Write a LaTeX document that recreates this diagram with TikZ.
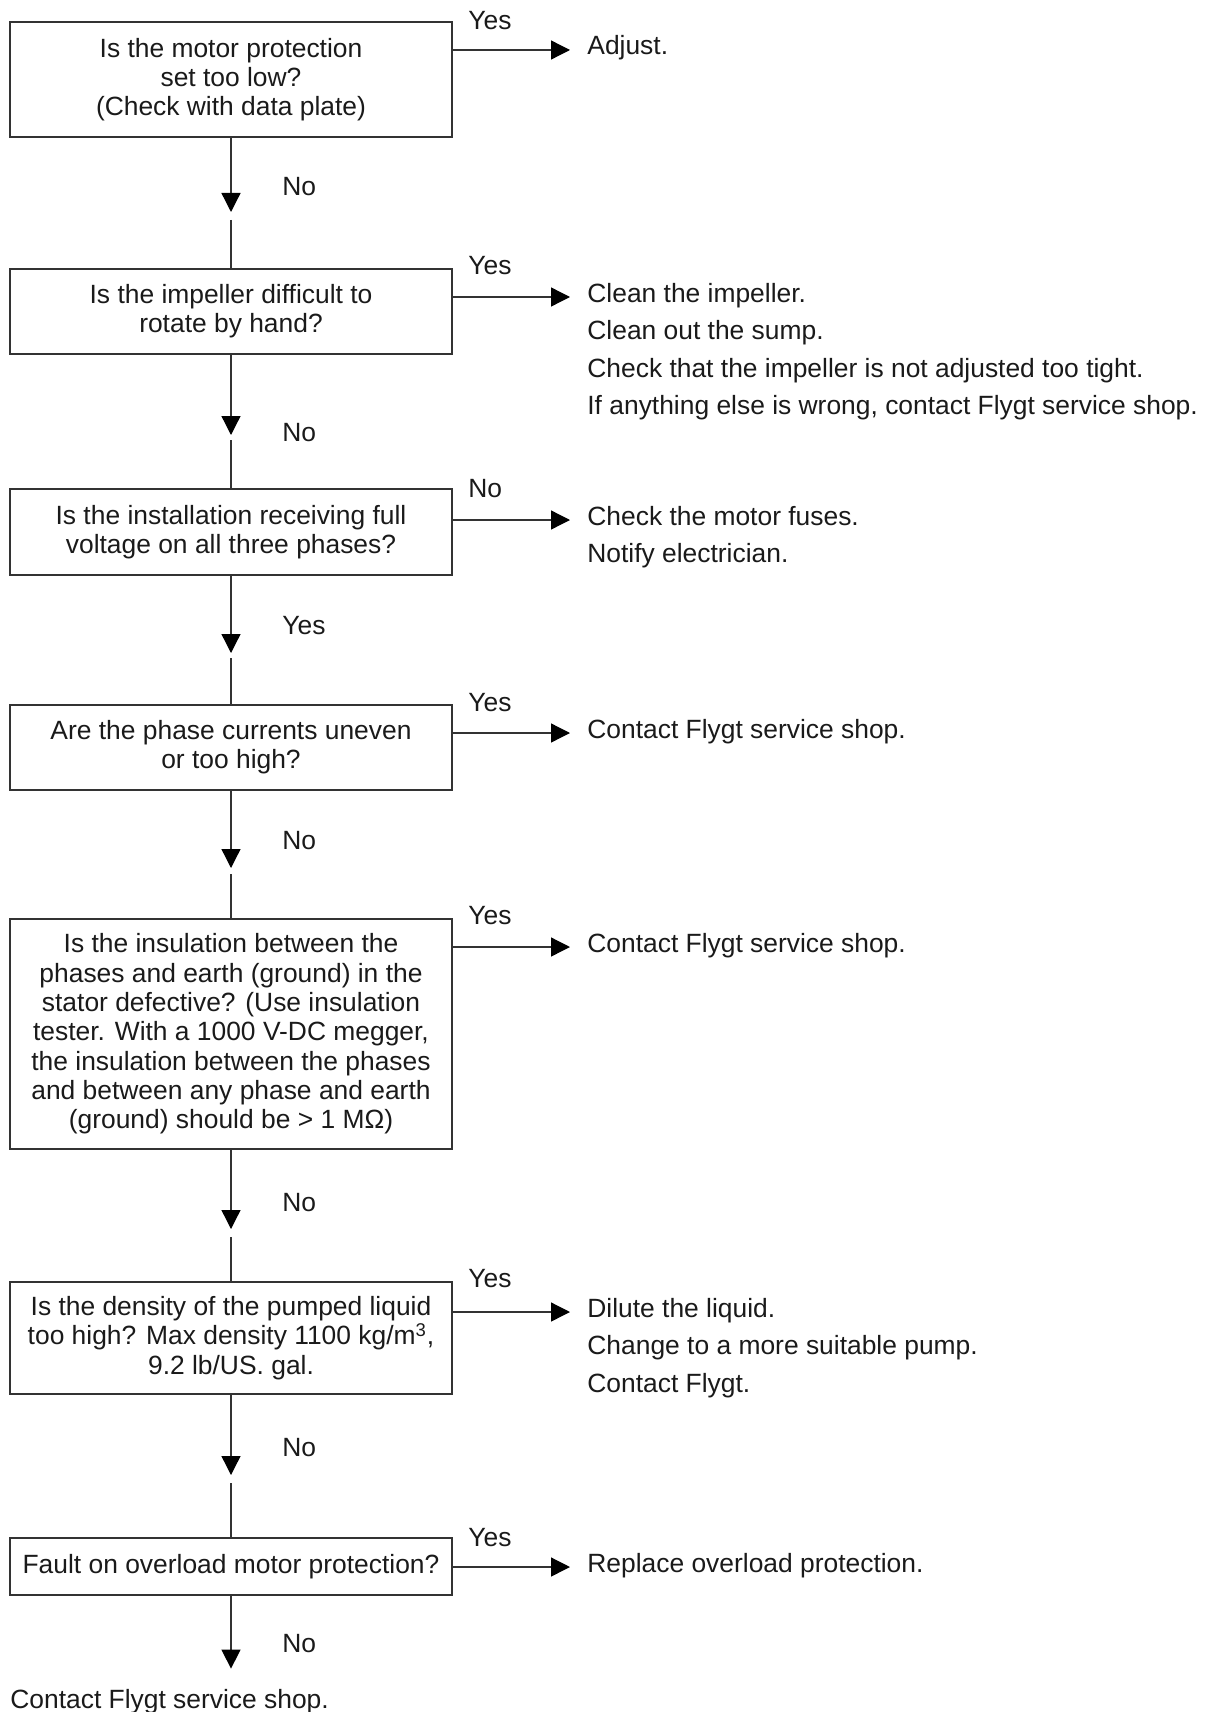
\documentclass[tikz,border=0pt]{standalone}
\usepackage{fontspec}
\setmainfont{Liberation Sans}
\usetikzlibrary{arrows.meta}
\definecolor{lncol}{HTML}{333333}
\definecolor{txcol}{HTML}{1A1A1A}
\begin{document}
\begin{tikzpicture}[x=0.5pt,y=-0.5pt,
  every node/.style={font=\fontsize{13.2pt}{14.65pt}\selectfont, text=txcol},
  qbox/.style={draw=lncol, line width=0.65pt, minimum width=221pt, inner sep=0pt, align=center},
  arr/.style={draw=lncol, line width=0.65pt, -{Triangle[length=9.5pt,width=9.5pt,color=black]}},
  plain/.style={draw=lncol, line width=0.65pt},
  lbl/.style={anchor=base west, inner sep=0pt},
  rt/.style={anchor=west, inner xsep=8.5pt, inner ysep=0pt, text height=8pt, text depth=3pt},
  rtn/.style={anchor=base west, inner xsep=8.5pt, inner ysep=0pt, text height=8pt, text depth=3pt}
]
\useasboundingbox (0,0) rectangle (1207,1712);

% question boxes
\node[qbox, minimum height=57.5pt] (b1) at (231,79.5) {Is the motor protection\\set too low?\\(Check with data plate)};
\node[qbox, minimum height=42.5pt] (b2) at (231,311.5) {Is the impeller difficult to\\rotate by hand?};
\node[qbox, minimum height=43pt] (b3) at (231,532) {Is the installation receiving full\\voltage on all three phases?};
\node[qbox, minimum height=42.5pt] (b4) at (231,747.5) {Are the phase currents uneven\\or too high?};
\node[qbox, minimum height=115pt] (b5) at (231,1034) {Is the insulation between the\\phases and earth (ground) in the\\stator defective? (Use insulation\\tester. With a 1000 V-DC megger,\\the insulation between the phases\\and between any phase and earth\\(ground) should be > 1 MΩ)};
\node[qbox, minimum height=56pt] (b6) at (231,1338) {Is the density of the pumped liquid\\too high? Max density 1100 kg/m\textsuperscript{3},\\9.2 lb/US. gal.};
\node[qbox, minimum height=28.5pt] (b7) at (231,1566.5) {Fault on overload motor protection?};

% right-hand actions
\node[rt] (r1) at (570,50) {Adjust.};
\node[rt] (r2a) at (570,297) {Clean the impeller.};
\node[rtn] (r2b) at ([yshift=-18.75pt]r2a.base west) {Clean out the sump.};
\node[rtn] (r2c) at ([yshift=-18.75pt]r2b.base west) {Check that the impeller is not adjusted too tight.};
\node[rtn] (r2d) at ([yshift=-18.75pt]r2c.base west) {If anything else is wrong, contact Flygt service shop.};
\node[rt] (r3a) at (570,520) {Check the motor fuses.};
\node[rtn] (r3b) at ([yshift=-18.75pt]r3a.base west) {Notify electrician.};
\node[rt] (r4) at (570,733) {Contact Flygt service shop.};
\node[rt] (r5) at (570,947) {Contact Flygt service shop.};
\node[rt] (r6a) at (570,1312) {Dilute the liquid.};
\node[rtn] (r6b) at ([yshift=-18.75pt]r6a.base west) {Change to a more suitable pump.};
\node[rtn] (r6c) at ([yshift=-18.75pt]r6b.base west) {Contact Flygt.};
\node[rt] (r7) at (570,1567) {Replace overload protection.};

% final result
\node[anchor=base west, inner xsep=0pt, inner ysep=10pt, text height=9.5pt, text depth=2.5pt] (fin) at (10,1708) {Contact Flygt service shop.};

% horizontal arrows
\foreach \b/\r in {b1/r1,b2/r2a,b3/r3a,b4/r4,b5/r5,b6/r6a,b7/r7}
  \draw[arr] (\b.east |- \r.west) -- (\r.west);

% horizontal labels
\node[lbl] (h1) at (468,29.5) {Yes};
\node[lbl] (h2) at (468,274.5) {Yes};
\node[lbl] (h3) at (468,497.5) {No};
\node[lbl] (h4) at (468,711.5) {Yes};
\node[lbl] (h5) at (468,924.5) {Yes};
\node[lbl] (h6) at (468,1287.5) {Yes};
\node[lbl] (h7) at (468,1546.5) {Yes};

% vertical connectors
\coordinate (t1) at (231,212);  \coordinate (s1) at (231,220);
\coordinate (t2) at (231,435);  \coordinate (s2) at (231,440);
\coordinate (t3) at (231,653);  \coordinate (s3) at (231,658);
\coordinate (t4) at (231,868);  \coordinate (s4) at (231,874);
\coordinate (t5) at (231,1229); \coordinate (s5) at (231,1237);
\coordinate (t6) at (231,1475); \coordinate (s6) at (231,1483);
\draw[arr] (b1.south) -- (t1); \draw[plain] (s1) -- (b2.north);
\draw[arr] (b2.south) -- (t2); \draw[plain] (s2) -- (b3.north);
\draw[arr] (b3.south) -- (t3); \draw[plain] (s3) -- (b4.north);
\draw[arr] (b4.south) -- (t4); \draw[plain] (s4) -- (b5.north);
\draw[arr] (b5.south) -- (t5); \draw[plain] (s5) -- (b6.north);
\draw[arr] (b6.south) -- (t6); \draw[plain] (s6) -- (b7.north);
\draw[arr] (b7.south) -- (b7.south |- fin.north);

% vertical labels
\node[lbl] (v1) at (282,195.5) {No};
\node[lbl] (v2) at (282,441.5) {No};
\node[lbl] (v3) at (282,634.5) {Yes};
\node[lbl] (v4) at (282,849.5) {No};
\node[lbl] (v5) at (282,1211.5) {No};
\node[lbl] (v6) at (282,1456.5) {No};
\node[lbl] (v7) at (282,1652.5) {No};
\end{tikzpicture}
\end{document}
